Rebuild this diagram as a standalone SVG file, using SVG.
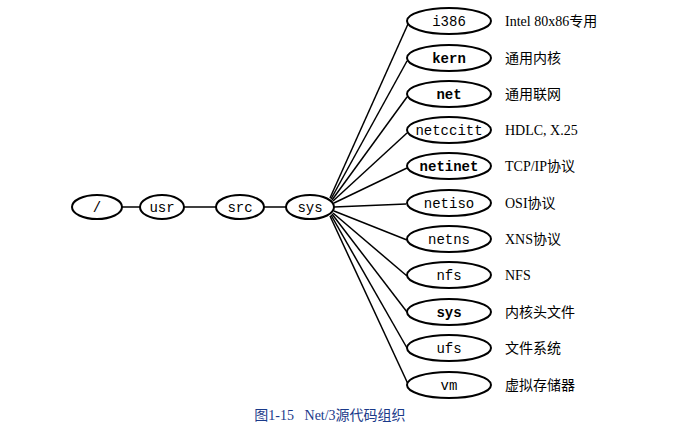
<svg xmlns="http://www.w3.org/2000/svg" width="684" height="434" viewBox="0 0 684 434">
<style>
.n ellipse{fill:#fff;stroke:#000;stroke-width:2}
.n text{font-family:"Liberation Mono",monospace;font-size:14px;text-anchor:middle;fill:#000}
.b text{font-weight:bold}
.d{font-family:"Liberation Serif","Noto Sans CJK SC",serif;font-size:14px;fill:#000}
#c line{stroke:#000;stroke-width:1.5}
</style>
<rect width="684" height="434" fill="#fff"/>
<g id="c">
<line x1="122" y1="207" x2="140" y2="207"/><line x1="184" y1="207" x2="216" y2="207"/><line x1="264" y1="207" x2="286" y2="207"/>
<line x1="330" y1="198" x2="408" y2="24"/><line x1="331" y1="199" x2="407" y2="61"/><line x1="332" y1="200" x2="407" y2="97"/>
<line x1="333" y1="201" x2="407" y2="133"/><line x1="334" y1="203" x2="407" y2="168"/><line x1="334" y1="207" x2="406" y2="204"/>
<line x1="334" y1="211" x2="407" y2="240"/><line x1="333" y1="213" x2="407" y2="276"/><line x1="332" y1="214" x2="407" y2="312"/>
<line x1="331" y1="215" x2="407" y2="348"/><line x1="330" y1="216" x2="408" y2="384"/>
</g>
<g id="root" class="n"><ellipse cx="97" cy="207" rx="25" ry="12"/><text x="97" y="212">/</text></g>
<g id="usr" class="n"><ellipse cx="162" cy="207" rx="22" ry="12"/><text x="162" y="212">usr</text></g>
<g id="src" class="n"><ellipse cx="240" cy="207" rx="24" ry="12"/><text x="240" y="212">src</text></g>
<g id="sys" class="n"><ellipse cx="310" cy="207" rx="24" ry="12"/><text x="310" y="212">sys</text></g>
<g id="i386" class="n"><ellipse cx="449" cy="21" rx="42" ry="13"/><text x="449" y="26">i386</text></g>
<g id="kern" class="n b"><ellipse cx="449" cy="58" rx="42" ry="13"/><text x="449" y="63">kern</text></g>
<g id="net" class="n b"><ellipse cx="449" cy="94" rx="42" ry="13"/><text x="449" y="99">net</text></g>
<g id="netccitt" class="n"><ellipse cx="449" cy="130" rx="42" ry="13"/><text x="449" y="135">netccitt</text></g>
<g id="netinet" class="n b"><ellipse cx="449" cy="166" rx="42" ry="13"/><text x="449" y="171">netinet</text></g>
<g id="netiso" class="n"><ellipse cx="449" cy="203" rx="42" ry="13"/><text x="449" y="208">netiso</text></g>
<g id="netns" class="n"><ellipse cx="449" cy="239" rx="42" ry="13"/><text x="449" y="244">netns</text></g>
<g id="nfs" class="n"><ellipse cx="449" cy="275" rx="42" ry="13"/><text x="449" y="280">nfs</text></g>
<g id="sys2" class="n b"><ellipse cx="449" cy="312" rx="42" ry="13"/><text x="449" y="317">sys</text></g>
<g id="ufs" class="n"><ellipse cx="449" cy="348" rx="42" ry="13"/><text x="449" y="353">ufs</text></g>
<g id="vm" class="n"><ellipse cx="449" cy="385" rx="42" ry="13"/><text x="449" y="390">vm</text></g>
<g class="d">
<text x="505" y="26">Intel 80x86专用</text><text x="505" y="63">通用内核</text><text x="505" y="99">通用联网</text>
<text x="505" y="135">HDLC, X.25</text><text x="505" y="171">TCP/IP协议</text><text x="505" y="208">OSI协议</text>
<text x="505" y="244">XNS协议</text><text x="505" y="280">NFS</text><text x="505" y="317">内核头文件</text>
<text x="505" y="353">文件系统</text><text x="505" y="390">虚拟存储器</text>
</g>
<text x="330" y="420" font-family="Liberation Serif,Noto Sans CJK SC,serif" font-size="14" fill="#1a3a8a" text-anchor="middle" xml:space="preserve">图1-15   Net/3源代码组织</text>
</svg>
